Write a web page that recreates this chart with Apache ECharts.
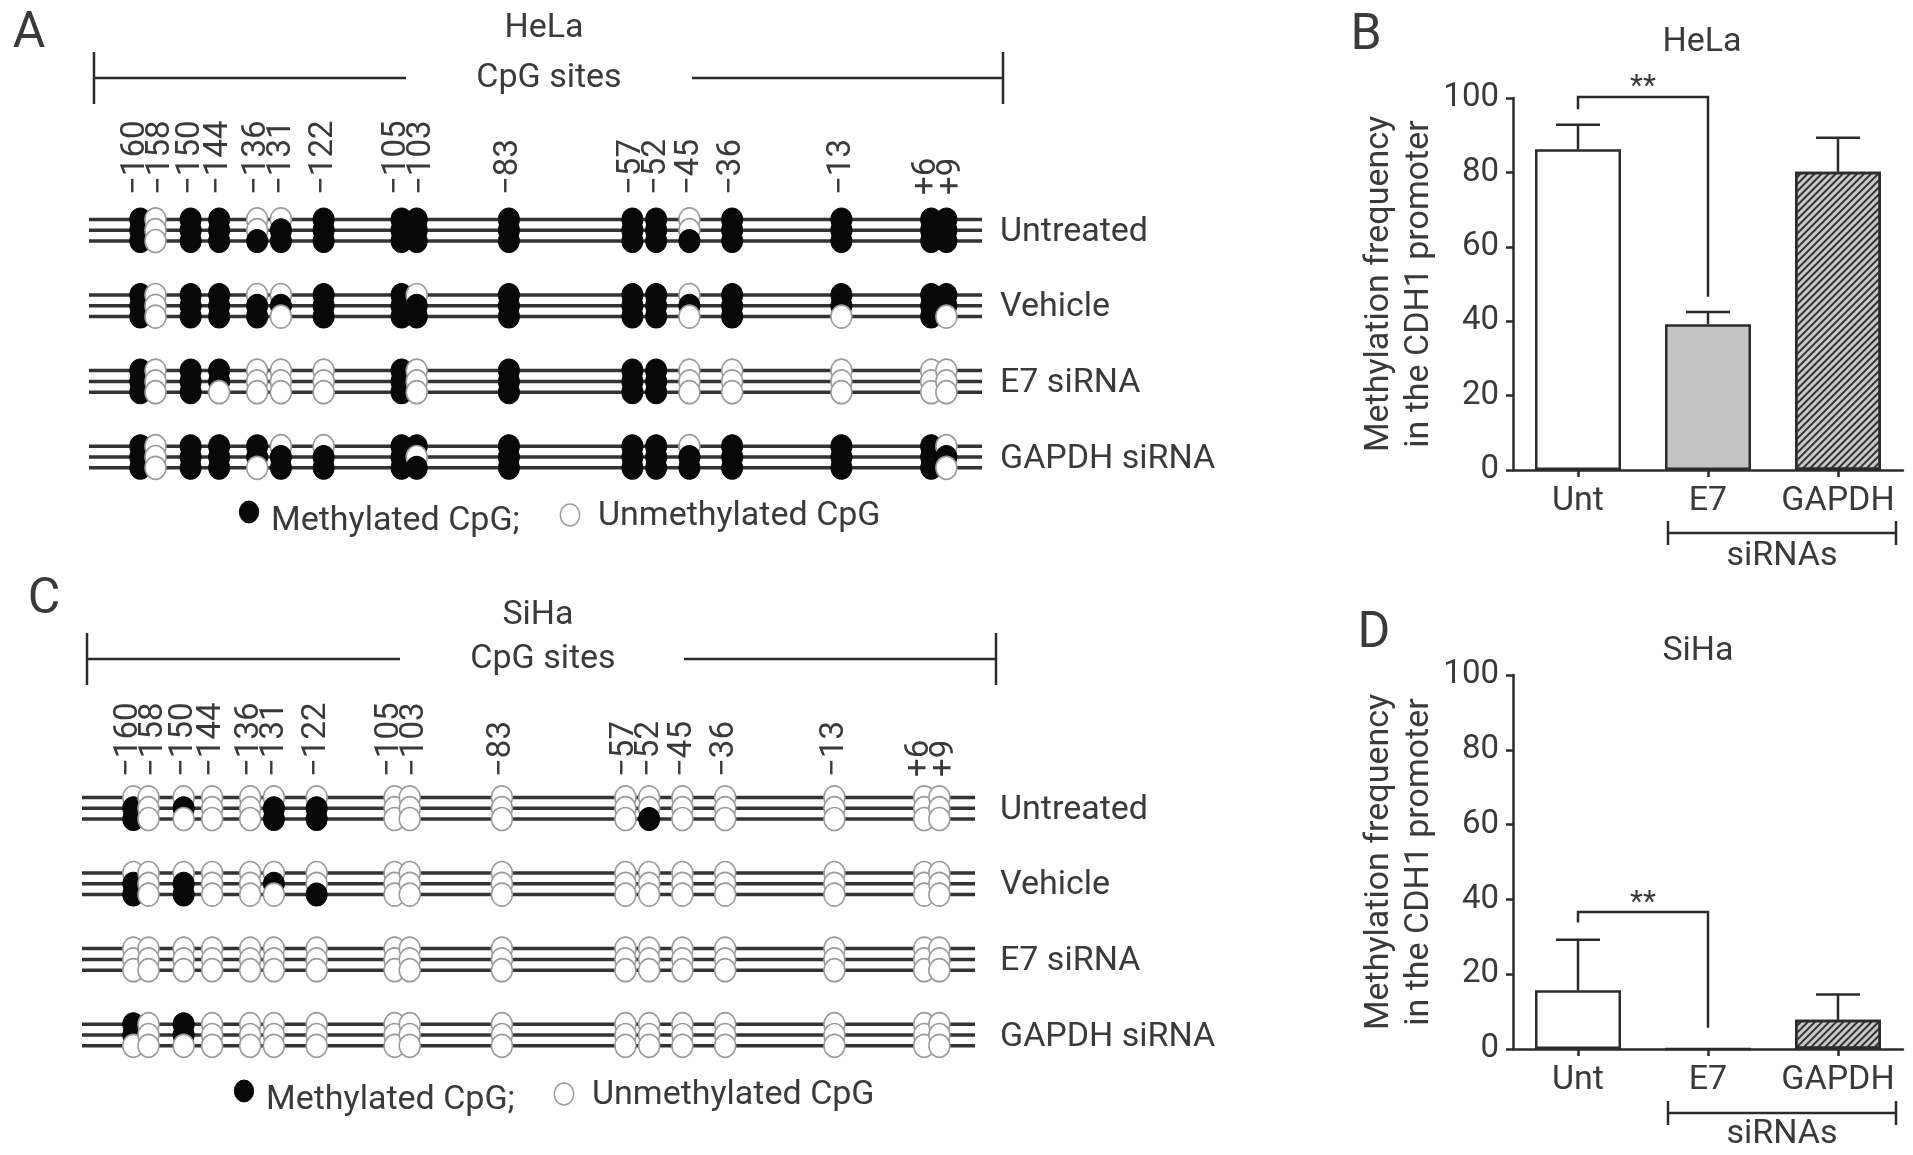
<!DOCTYPE html>
<html>
<head>
<meta charset="UTF-8">
<title>CDH1 promoter methylation</title>
<script src="https://cdn.jsdelivr.net/npm/echarts@6/dist/echarts.min.js"></script>
<style>
    html, body { margin: 0; padding: 0; background: #fff; }
    #chart { width: 1913px; height: 1155px; }
</style>
</head>
<body>
<div id="chart"></div>
<script>
// CpG sites in the CDH1 promoter
var sites = [-160, -158, -150, -144, -136, -131, -122, -105, -103, -83, -57, -52, -45, -36, -13, 6, 9];
var treatments = ['Untreated', 'Vehicle', 'E7 siRNA', 'GAPDH siRNA'];

// 3 clones per treatment, one char per CpG site: 1 = methylated, 0 = unmethylated
var helaClones = [
    ['10110011111101111', '10110111111101111', '10111111111111111'],
    ['10110011011101111', '10111111111111111', '10111011111101010'],
    ['10110001011100000', '10110001011100000', '10100001011100000'],
    ['10111001111101110', '10111111011111111', '10110111111111110']
];
var sihaClones = [
    ['00000000000000000', '10100110000000000', '10000110000100000'],
    ['00000000000000000', '10100100000000000', '10100010000000000'],
    ['00000000000000000', '00000000000000000', '00000000000000000'],
    ['10100000000000000', '10100000000000000', '00000000000000000']
];

// methylation frequency (%) bar charts
var groups = ['Unt', 'E7', 'GAPDH'];
var helaMean = [86.2, 39.2, 80.2];
var helaErr = [6.6, 3.3, 9.1];
var sihaMean = [15.7, 0, 7.8];
var sihaErr = [13.5, 0, 6.8];
// significance bracket: from, to, height, left end, right end
var helaSig = [0, 1, 100.3, 97, 46.6];
var sihaSig = [0, 1, 36.6, 33.8, 5.7];

var FONT = 'Roboto, "Liberation Sans", sans-serif';
var INK = '#3a3a3a';
var LINE = '#2b2b2b';
var ROW_GAP = 7;
var X_MIN = -171.4, X_MAX = 16.6;

var chart = echarts.init(document.getElementById('chart'));

// push crowded neighbours apart so that they stay readable (like the schematic does)
function spread(xs, gap) {
    var out = xs.slice();
    for (var it = 0; it < 60; it++) {
        for (var i = 0; i < out.length - 1; i++) {
            var d = out[i + 1] - out[i];
            if (d < gap) { out[i] -= (gap - d) / 2; out[i + 1] += (gap - d) / 2; }
        }
    }
    return out;
}
var siteX = spread(sites, 3.2);

function cloneDots(clones) {
    var items = [];
    clones.forEach(function (rowClones, r) {
        sites.forEach(function (site, s) {
            rowClones.forEach(function (str, k) {
                var m = str.charAt(s) === '1';
                items.push({
                    value: [siteX[s], r * ROW_GAP + k],
                    itemStyle: m
                        ? { color: '#080808', borderColor: '#080808', borderWidth: 1, opacity: 1 }
                        : { color: '#ffffff', borderColor: '#9b9b9b', borderWidth: 1.6, opacity: 1 }
                });
            });
        });
    });
    return items;
}

function strandData(clones) {
    var d = [];
    clones.forEach(function (rowClones, r) {
        rowClones.forEach(function (str, k) { d.push([X_MIN, r * ROW_GAP + k, X_MAX]); });
    });
    return d;
}

function renderStrand(params, api) {
    var a = api.coord([api.value(0), api.value(1)]);
    var b = api.coord([api.value(2), api.value(1)]);
    return { type: 'line', shape: { x1: a[0], y1: a[1], x2: b[0], y2: b[1] },
        style: { stroke: '#333333', lineWidth: 3.5 } };
}

function renderErr(params, api) {
    var i = api.value(0), m = api.value(1), top = api.value(2);
    if (!(top > m)) return { type: 'group', children: [] };
    var p0 = api.coord([i, m]), p1 = api.coord([i, top]);
    var st = { stroke: LINE, lineWidth: 2.5 };
    return { type: 'group', children: [
        { type: 'line', shape: { x1: p0[0], y1: p0[1], x2: p1[0], y2: p1[1] }, style: st },
        { type: 'line', shape: { x1: p1[0] - 22, y1: p1[1], x2: p1[0] + 22, y2: p1[1] }, style: st }
    ] };
}

function renderSig(params, api) {
    var h = api.value(2);
    var a = api.coord([api.value(0), api.value(3)]);
    var b = api.coord([api.value(0), h]);
    var c = api.coord([api.value(1), h]);
    var d = api.coord([api.value(1), api.value(4)]);
    return { type: 'group', children: [
        { type: 'polyline', shape: { points: [a, b, c, d] }, style: { stroke: LINE, lineWidth: 2.5, fill: 'none' } },
        { type: 'text', x: (b[0] + c[0]) / 2, y: b[1] - 9,
          style: { text: '**', fontSize: 30, fontFamily: FONT, fill: INK, textAlign: 'center', textVerticalAlign: 'middle' } }
    ] };
}

var hatch = { symbol: 'rect', symbolSize: 1, dashArrayX: [1, 0], dashArrayY: [2, 3], rotation: -Math.PI / 4, color: '#333333' };
var barLook = [
    { color: '#ffffff' },
    { color: '#c3c3c3' },
    { color: '#c9c9c9', decal: hatch }
];
function barItems(mean) {
    return groups.map(function (g, i) {
        return { value: mean[i], itemStyle: Object.assign({ borderColor: LINE, borderWidth: 2.5 }, barLook[i]) };
    });
}
function errData(mean, err) {
    return groups.map(function (g, i) { return [i, mean[i], mean[i] + err[i]]; });
}

function dotX(grid) {
    return { type: 'value', gridIndex: grid, min: X_MIN, max: X_MAX, show: false };
}
function dotY(grid) {
    return { type: 'value', gridIndex: grid, min: -3, max: 26, inverse: true, show: false };
}
function barX(grid) {
    return { type: 'category', gridIndex: grid, data: groups,
        axisLine: { lineStyle: { color: LINE, width: 2.5 } },
        axisTick: { show: true, alignWithLabel: true, length: 7, lineStyle: { color: LINE, width: 2.5 } },
        axisLabel: { interval: 0, hideOverlap: false, fontSize: 34, color: INK, fontFamily: FONT, margin: 14 },
        splitLine: { show: false } };
}
function barY(grid) {
    return { type: 'value', gridIndex: grid, min: 0, max: 100, interval: 20,
        name: 'Methylation frequency\nin the CDH1 promoter', nameLocation: 'middle', nameRotate: 90, nameGap: 72,
        nameTextStyle: { fontSize: 34, lineHeight: 40, color: INK, fontFamily: FONT },
        axisLine: { show: true, lineStyle: { color: LINE, width: 2.5 } },
        axisTick: { show: true, length: 7, lineStyle: { color: LINE, width: 2.5 } },
        axisLabel: { fontSize: 33, color: INK, fontFamily: FONT, margin: 14 },
        splitLine: { show: false } };
}

var dotSize = [21, 23];

var option = {
    animation: false,
    backgroundColor: '#ffffff',
    textStyle: { fontFamily: FONT },
    grid: [
        { left: 89, top: 187, width: 893, height: 313.2 },
        { left: 82, top: 765, width: 893, height: 313.2 },
        { left: 1513, top: 98, width: 390, height: 372 },
        { left: 1513, top: 675, width: 390, height: 374 }
    ],
    xAxis: [dotX(0), dotX(1), barX(2), barX(3)],
    yAxis: [dotY(0), dotY(1), barY(2), barY(3)],
    series: [
        { type: 'custom', xAxisIndex: 0, yAxisIndex: 0, renderItem: renderStrand, data: strandData(helaClones),
          encode: { x: [0, 2], y: 1 }, z: 1, silent: true },
        { type: 'scatter', xAxisIndex: 0, yAxisIndex: 0, symbol: 'circle', symbolSize: dotSize,
          data: cloneDots(helaClones), z: 3, silent: true },
        { type: 'custom', xAxisIndex: 1, yAxisIndex: 1, renderItem: renderStrand, data: strandData(sihaClones),
          encode: { x: [0, 2], y: 1 }, z: 1, silent: true },
        { type: 'scatter', xAxisIndex: 1, yAxisIndex: 1, symbol: 'circle', symbolSize: dotSize,
          data: cloneDots(sihaClones), z: 3, silent: true },
        { type: 'bar', xAxisIndex: 2, yAxisIndex: 2, barWidth: 86, data: barItems(helaMean), z: 2, silent: true },
        { type: 'custom', xAxisIndex: 2, yAxisIndex: 2, renderItem: renderErr, data: errData(helaMean, helaErr),
          encode: { x: 0, y: [1, 2] }, z: 3, silent: true },
        { type: 'custom', xAxisIndex: 2, yAxisIndex: 2, renderItem: renderSig, data: [helaSig],
          encode: { x: [0, 1], y: [2, 3, 4] }, z: 3, silent: true, clip: false },
        { type: 'bar', xAxisIndex: 3, yAxisIndex: 3, barWidth: 86, data: barItems(sihaMean), z: 2, silent: true },
        { type: 'custom', xAxisIndex: 3, yAxisIndex: 3, renderItem: renderErr, data: errData(sihaMean, sihaErr),
          encode: { x: 0, y: [1, 2] }, z: 3, silent: true },
        { type: 'custom', xAxisIndex: 3, yAxisIndex: 3, renderItem: renderSig, data: [sihaSig],
          encode: { x: [0, 1], y: [2, 3, 4] }, z: 3, silent: true, clip: false }
    ]
};
chart.setOption(option);

// annotations: panel letters, titles, brackets, site labels, row labels, legends
var g = [];
function txt(x, y, s, size, align, rot) {
    g.push({ type: 'text', x: x, y: y, rotation: rot || 0, silent: true,
        style: { text: s, fontSize: size, fontFamily: FONT, fill: INK,
                 textAlign: align || 'center', textVerticalAlign: 'middle' } });
}
function seg(x1, y1, x2, y2, w) {
    g.push({ type: 'line', silent: true, shape: { x1: x1, y1: y1, x2: x2, y2: y2 },
        style: { stroke: LINE, lineWidth: w || 2.5 } });
}
function dot(x, y, filled) {
    g.push({ type: 'circle', x: x, y: y, scaleX: 0.88, silent: true, shape: { cx: 0, cy: 0, r: 11 },
        style: filled ? { fill: '#080808', stroke: '#080808', lineWidth: 1 } : { fill: '#fff', stroke: '#9b9b9b', lineWidth: 1.6 } });
}
function siteText(s) { return s > 0 ? '+' + s : '\u2212' + Math.abs(s); }

function dotPanel(grid, cell, top, bracket, labelBottom, legend) {
    txt(bracket.mid - 5, top, cell, 34);
    seg(bracket.x0, bracket.y, bracket.g0, bracket.y);
    seg(bracket.g1, bracket.y, bracket.x1, bracket.y);
    seg(bracket.x0, bracket.y - 26, bracket.x0, bracket.y + 26);
    seg(bracket.x1, bracket.y - 26, bracket.x1, bracket.y + 26);
    txt(bracket.mid, bracket.y, 'CpG sites', 34);
    var px = siteX.map(function (s) { return chart.convertToPixel({ gridIndex: grid }, [s, 0])[0]; });
    var lx = spread(px, 25);
    sites.forEach(function (s, i) { txt(lx[i], labelBottom, siteText(s), 33, 'left', Math.PI / 2); });
    treatments.forEach(function (t, r) {
        var y = chart.convertToPixel({ gridIndex: grid }, [0, r * ROW_GAP + 1])[1];
        txt(1000, y + 2, t, 34, 'left');
    });
    dot(legend.dx, legend.y - 6, true);
    txt(legend.dx + 22, legend.y + 3, 'Methylated CpG;', 34, 'left');
    dot(legend.ux, legend.y - 3, false);
    txt(legend.ux + 28, legend.y - 2, 'Unmethylated CpG', 34, 'left');
}

txt(29, 34, 'A', 50);
txt(1366, 36, 'B', 50);
txt(44, 600, 'C', 50);
txt(1374, 634, 'D', 50);

dotPanel(0, 'HeLa', 28, { x0: 94, x1: 1003, g0: 406, g1: 692, y: 78, mid: 549 }, 195, { dx: 249, ux: 570, y: 518 });
dotPanel(1, 'SiHa', 615, { x0: 87, x1: 996, g0: 400, g1: 684, y: 659, mid: 543 }, 777, { dx: 244, ux: 564, y: 1097 });

txt(1702, 42, 'HeLa', 34);
txt(1698, 651, 'SiHa', 34);

// siRNAs brackets under the bar charts
[[533, 556], [1113, 1134]].forEach(function (p) {
    seg(1668, p[0], 1896, p[0]);
    seg(1668, p[0] - 12, 1668, p[0] + 12);
    seg(1896, p[0] - 12, 1896, p[0] + 12);
    txt(1782, p[1], 'siRNAs', 34);
});

chart.setOption({ graphic: g });
</script>
</body>
</html>
